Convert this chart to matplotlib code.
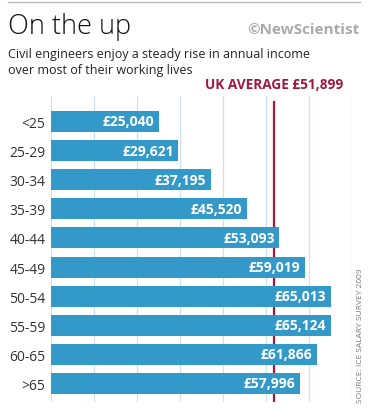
import matplotlib.pyplot as plt
from matplotlib.lines import Line2D

# Average annual income of civil engineers by age band
ages = ["<25", "25-29", "30-34", "35-39", "40-44", "45-49", "50-54", "55-59", "60-65", ">65"]
income = [25040, 29621, 37195, 45520, 53093, 59019, 65013, 65124, 61866, 57996]
uk_average = 51899
grid_ticks = [0, 10000, 20000, 30000, 40000, 50000, 60000, 70000]

bar_color = "#3399c8"
red = "#a3163f"
grid_color = "#cde2ee"

plt.rcParams['font.family'] = ['Open Sans', 'DejaVu Sans']

fig = plt.figure(figsize=(3.7, 4.1), dpi=100)
ax = fig.add_axes([51 / 370, 1 - 403 / 410, 301 / 370, 306 / 410])

pos = list(range(len(ages)))
ax.barh(pos, income, height=0.72, color=bar_color, zorder=3)

for y, v in zip(pos, income):
    ax.text(v - 1100, y, f"£{v:,}", ha="right", va="center", color="white",
            fontsize=10, fontweight="bold", zorder=4)

# vertical gridlines
for t in grid_ticks:
    ax.axvline(t, color=grid_color, lw=0.9, zorder=1)

# UK average line (sits behind the bars)
ax.axvline(uk_average, ymin=0, ymax=0.98, color=red, lw=1.6, zorder=2)
ax.text(uk_average, -1.05, f"UK AVERAGE £{uk_average:,}", ha="center", va="bottom",
        color=red, fontsize=9.8, fontweight="bold", clip_on=False)

ax.set_xlim(0, 70000)
ax.set_ylim(len(ages) - 1 + 0.636, -0.876)
ax.set_yticks(pos)
ax.set_yticklabels(ages, fontsize=10, color="#333333")
ax.set_xticks([])
ax.tick_params(axis="y", length=0, pad=4)
for s in ax.spines.values():
    s.set_visible(False)

# header
fig.add_artist(Line2D([8 / 370, 360 / 370], [1 - 3 / 410, 1 - 3 / 410], color="#bbbbbb", lw=1))
fig.text(8 / 370, 1 - 34 / 410, "On the up", fontsize=19.5, color="#111111",
         fontweight="light", ha="left", va="baseline")
fig.text(360 / 370, 1 - 34 / 410, "©NewScientist", fontsize=11, color="#aaaaaa",
         fontweight="bold", ha="right", va="baseline")
fig.text(8 / 370, 1 - 58 / 410, "Civil engineers enjoy a steady rise in annual income",
         fontsize=9, color="#222222", ha="left", va="baseline")
fig.text(8 / 370, 1 - 74 / 410, "over most of their working lives",
         fontsize=9, color="#222222", ha="left", va="baseline")

# source
fig.text(361 / 370, 1 - 403 / 410, "SOURCE: ICE SALARY SURVEY 2009", rotation=90,
         fontsize=6, color="#777777", ha="center", va="bottom")

fig.savefig("out.png", dpi=100)
